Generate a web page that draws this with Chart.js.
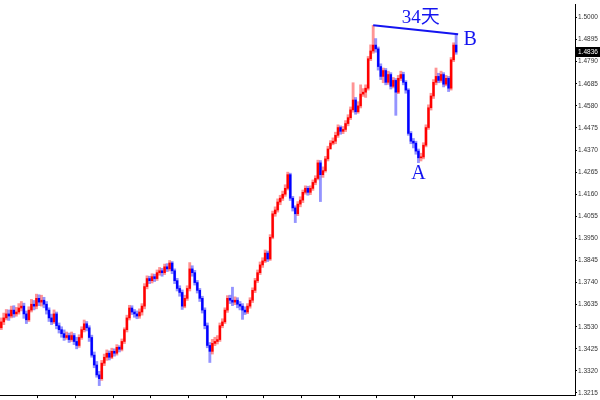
<!DOCTYPE html>
<html>
<head>
<meta charset="utf-8">
<script src="https://cdn.jsdelivr.net/npm/chart.js@4.4.0/dist/chart.umd.min.js"></script>
<style>
  html, body { margin: 0; padding: 0; background: #fff; }
  #wrap { width: 600px; height: 400px; position: relative; }
</style>
</head>
<body>
<div id="wrap"><canvas id="chart"></canvas></div>
<script>
// ===== DATA (daily bars) =====
const opens = [
  1.3525,1.3553,1.3572,1.3591,1.3581,1.3609,1.3591,1.3600,1.3619,1.3628,
  1.3591,1.3563,1.3609,1.3637,1.3628,1.3665,1.3647,1.3656,1.3637,1.3609,
  1.3572,1.3553,1.3591,1.3535,1.3516,1.3497,1.3479,1.3488,1.3469,1.3488,
  1.3460,1.3441,1.3479,1.3516,1.3544,1.3525,1.3479,1.3395,1.3348,1.3301,
  1.3283,1.3357,1.3385,1.3404,1.3385,1.3413,1.3404,1.3432,1.3423,1.3460,
  1.3516,1.3572,1.3619,1.3600,1.3591,1.3581,1.3600,1.3628,1.3721,1.3759,
  1.3749,1.3768,1.3759,1.3787,1.3796,1.3787,1.3815,1.3805,1.3833,1.3796,
  1.3749,1.3712,1.3693,1.3628,1.3665,1.3712,1.3805,1.3787,1.3740,1.3703,
  1.3665,1.3609,1.3535,1.3441,1.3413,1.3451,1.3460,1.3469,1.3535,1.3553,
  1.3609,1.3665,1.3656,1.3647,1.3656,1.3637,1.3628,1.3609,1.3600,1.3628,
  1.3656,1.3703,1.3749,1.3787,1.3824,1.3843,1.3880,1.3852,1.3955,1.4067,
  1.4085,1.4123,1.4141,1.4160,1.4188,1.4253,1.4141,1.4095,1.4067,1.4113,
  1.4132,1.4169,1.4188,1.4169,1.4188,1.4216,1.4235,1.4309,1.4253,1.4272,
  1.4328,1.4375,1.4403,1.4412,1.4440,1.4477,1.4459,1.4468,1.4496,1.4524,
  1.4561,1.4608,1.4552,1.4580,1.4636,1.4645,1.4664,1.4804,1.4841,1.4869,
  1.4851,1.4767,1.4720,1.4748,1.4692,1.4729,1.4673,1.4701,1.4645,1.4711,
  1.4729,1.4692,1.4655,1.4449,1.4412,1.4403,1.4365,1.4333,1.4337,1.4393,
  1.4477,1.4571,1.4627,1.4692,1.4720,1.4701,1.4729,1.4683,1.4711,1.4664,
  1.4799,1.4869
];
const highs = [
  1.3572,1.3595,1.3612,1.3610,1.3628,1.3630,1.3622,1.3640,1.3650,1.3642,
  1.3605,1.3625,1.3660,1.3655,1.3685,1.3682,1.3680,1.3670,1.3650,1.3620,
  1.3590,1.3610,1.3600,1.3548,1.3530,1.3515,1.3505,1.3500,1.3505,1.3498,
  1.3480,1.3492,1.3530,1.3562,1.3555,1.3535,1.3490,1.3410,1.3365,1.3318,
  1.3370,1.3400,1.3420,1.3415,1.3428,1.3425,1.3445,1.3440,1.3472,1.3525,
  1.3585,1.3632,1.3630,1.3612,1.3605,1.3615,1.3640,1.3735,1.3772,1.3770,
  1.3782,1.3780,1.3800,1.3812,1.3808,1.3828,1.3830,1.3845,1.3840,1.3805,
  1.3760,1.3725,1.3705,1.3680,1.3725,1.3835,1.3820,1.3798,1.3750,1.3712,
  1.3675,1.3620,1.3548,1.3455,1.3470,1.3480,1.3488,1.3548,1.3568,1.3620,
  1.3678,1.3680,1.3718,1.3672,1.3668,1.3650,1.3640,1.3625,1.3640,1.3668,
  1.3715,1.3760,1.3800,1.3838,1.3858,1.3895,1.3890,1.3968,1.4080,1.4100,
  1.4138,1.4155,1.4175,1.4205,1.4265,1.4260,1.4150,1.4105,1.4125,1.4148,
  1.4180,1.4200,1.4198,1.4200,1.4228,1.4248,1.4322,1.4320,1.4290,1.4340,
  1.4388,1.4415,1.4428,1.4455,1.4490,1.4485,1.4482,1.4510,1.4538,1.4575,
  1.4690,1.4620,1.4600,1.4680,1.4662,1.4680,1.4815,1.4870,1.4963,1.4900,
  1.4860,1.4780,1.4760,1.4758,1.4745,1.4738,1.4715,1.4710,1.4725,1.4745,
  1.4740,1.4700,1.4662,1.4458,1.4425,1.4412,1.4375,1.4355,1.4405,1.4490,
  1.4585,1.4640,1.4705,1.4760,1.4735,1.4745,1.4738,1.4725,1.4720,1.4810,
  1.4880,1.4921
];
const lows = [
  1.3516,1.3540,1.3562,1.3560,1.3572,1.3575,1.3580,1.3590,1.3605,1.3570,
  1.3545,1.3555,1.3600,1.3610,1.3615,1.3630,1.3628,1.3620,1.3590,1.3555,
  1.3540,1.3545,1.3520,1.3500,1.3480,1.3465,1.3470,1.3455,1.3460,1.3445,
  1.3425,1.3432,1.3470,1.3505,1.3510,1.3460,1.3385,1.3335,1.3290,1.3250,
  1.3275,1.3345,1.3370,1.3372,1.3378,1.3390,1.3395,1.3410,1.3415,1.3450,
  1.3505,1.3562,1.3588,1.3575,1.3568,1.3570,1.3585,1.3615,1.3710,1.3735,
  1.3738,1.3745,1.3750,1.3775,1.3770,1.3778,1.3792,1.3795,1.3782,1.3735,
  1.3700,1.3675,1.3612,1.3620,1.3655,1.3700,1.3770,1.3728,1.3690,1.3650,
  1.3595,1.3520,1.3430,1.3360,1.3400,1.3440,1.3448,1.3460,1.3525,1.3545,
  1.3598,1.3640,1.3630,1.3635,1.3620,1.3610,1.3565,1.3588,1.3592,1.3618,
  1.3645,1.3692,1.3740,1.3778,1.3812,1.3835,1.3840,1.3845,1.3948,1.4055,
  1.4075,1.4110,1.4130,1.4150,1.4180,1.4130,1.4080,1.4025,1.4058,1.4100,
  1.4120,1.4160,1.4155,1.4158,1.4178,1.4205,1.4228,1.4125,1.4240,1.4265,
  1.4318,1.4390,1.4395,1.4400,1.4430,1.4445,1.4448,1.4458,1.4485,1.4515,
  1.4550,1.4540,1.4545,1.4570,1.4625,1.4620,1.4655,1.4795,1.4830,1.4835,
  1.4750,1.4705,1.4690,1.4680,1.4682,1.4660,1.4665,1.4535,1.4638,1.4700,
  1.4680,1.4640,1.4440,1.4400,1.4380,1.4350,1.4310,1.4318,1.4328,1.4385,
  1.4468,1.4560,1.4615,1.4680,1.4690,1.4692,1.4670,1.4675,1.4648,1.4655,
  1.4790,1.4825
];
const closes = [
  1.3553,1.3572,1.3591,1.3581,1.3609,1.3591,1.3600,1.3619,1.3628,1.3591,
  1.3563,1.3609,1.3637,1.3628,1.3665,1.3647,1.3656,1.3637,1.3609,1.3572,
  1.3553,1.3591,1.3535,1.3516,1.3497,1.3479,1.3488,1.3469,1.3488,1.3460,
  1.3441,1.3479,1.3516,1.3544,1.3525,1.3479,1.3395,1.3348,1.3301,1.3283,
  1.3357,1.3385,1.3404,1.3385,1.3413,1.3404,1.3432,1.3423,1.3460,1.3516,
  1.3572,1.3619,1.3600,1.3591,1.3581,1.3600,1.3628,1.3721,1.3759,1.3749,
  1.3768,1.3759,1.3787,1.3796,1.3787,1.3815,1.3805,1.3833,1.3796,1.3749,
  1.3712,1.3693,1.3628,1.3665,1.3712,1.3805,1.3787,1.3740,1.3703,1.3665,
  1.3609,1.3535,1.3441,1.3413,1.3451,1.3460,1.3469,1.3535,1.3553,1.3609,
  1.3665,1.3656,1.3647,1.3656,1.3637,1.3628,1.3609,1.3600,1.3628,1.3656,
  1.3703,1.3749,1.3787,1.3824,1.3843,1.3880,1.3852,1.3955,1.4067,1.4085,
  1.4123,1.4141,1.4160,1.4188,1.4253,1.4141,1.4095,1.4067,1.4113,1.4132,
  1.4169,1.4188,1.4169,1.4188,1.4216,1.4235,1.4309,1.4253,1.4272,1.4328,
  1.4375,1.4403,1.4412,1.4440,1.4477,1.4459,1.4468,1.4496,1.4524,1.4561,
  1.4608,1.4552,1.4580,1.4636,1.4645,1.4664,1.4804,1.4841,1.4869,1.4851,
  1.4767,1.4720,1.4748,1.4692,1.4729,1.4673,1.4701,1.4645,1.4711,1.4729,
  1.4692,1.4655,1.4449,1.4412,1.4403,1.4365,1.4333,1.4337,1.4393,1.4477,
  1.4571,1.4627,1.4692,1.4720,1.4701,1.4729,1.4683,1.4711,1.4664,1.4799,
  1.4869,1.4836
];

// price axis labels on the right
const yTicks = [1.3215, 1.3320, 1.3425, 1.3530, 1.3635, 1.3740, 1.3845, 1.3950,
  1.4055, 1.4160, 1.4265, 1.4370, 1.4475, 1.4580, 1.4685, 1.4790, 1.4895, 1.5000];
// time axis tick marks (bar boundaries, no labels)
const xTickBars = [15, 30, 45, 60, 75, 90, 105, 120, 135, 150, 165, 180];

// marked bars for the A/B pattern
const peakBar = 148;
const aBar = 166;
const bBar = 181;
const spanLabel = '34天';

// ===== BUILD DATASETS =====
const UP = '#ff0000', DOWN = '#0000ff';
const UP_WICK = 'rgba(255,0,0,0.42)', DOWN_WICK = 'rgba(0,0,255,0.42)';

const wickData = highs.map((h, i) => ({ x: i, y: [lows[i], h] }));
const bodyData = opens.map((o, i) => ({ x: i, y: [o, closes[i]] }));
const isUp = closes.map((c, i) => c >= opens[i]);

// ===== ANNOTATIONS (trend line, labels, last price box) =====
const annotPlugin = {
  id: 'annot',
  afterDatasetsDraw(chart) {
    const { ctx, scales: { x, y } } = chart;
    const x1 = x.getPixelForValue(peakBar);
    const y1 = y.getPixelForValue(highs[peakBar]);
    const x2 = x.getPixelForValue(bBar) + 2;
    const y2 = y.getPixelForValue(highs[bBar]);

    ctx.save();
    ctx.strokeStyle = '#1414f0';
    ctx.lineWidth = 2;
    ctx.beginPath();
    ctx.moveTo(x1, y1);
    ctx.lineTo(x2, y2);
    ctx.stroke();

    ctx.fillStyle = '#1414f0';
    ctx.textAlign = 'center';
    ctx.textBaseline = 'alphabetic';
    ctx.font = '19px "Liberation Serif", "Noto Sans CJK SC", serif';
    ctx.fillText(spanLabel, (x1 + x2) / 2 + 5, Math.min(y1, y2) - 2);

    ctx.font = '20px "Liberation Serif", serif';
    ctx.textBaseline = 'middle';
    ctx.fillText('B', x2 + 12, y2 + 6);
    ctx.fillText('A', x.getPixelForValue(aBar), y.getPixelForValue(lows[aBar]) + 11);
    ctx.restore();
  },
  afterDraw(chart) {
    const { ctx, scales: { y }, chartArea } = chart;
    const last = closes[closes.length - 1];
    const py = Math.round(y.getPixelForValue(last));
    ctx.save();
    ctx.fillStyle = '#000';
    ctx.fillRect(chartArea.right + 1, py - 5, 600 - chartArea.right - 1, 10);
    ctx.fillStyle = '#fff';
    ctx.font = '6.5px "Liberation Sans", Arial, sans-serif';
    ctx.textAlign = 'left';
    ctx.textBaseline = 'middle';
    ctx.fillText(last.toFixed(4), chartArea.right + 3, py + 0.5);
    ctx.restore();
  }
};

// ===== CHART =====
new Chart(document.getElementById('chart'), {
  type: 'bar',
  data: {
    datasets: [
      {
        data: wickData,
        backgroundColor: isUp.map(u => u ? UP_WICK : DOWN_WICK),
        barThickness: 2.2,
        grouped: false,
        order: 2
      },
      {
        data: bodyData,
        backgroundColor: isUp.map(u => u ? UP : DOWN),
        barThickness: 1.7,
        minBarLength: 1,
        grouped: false,
        order: 1
      }
    ]
  },
  options: {
    responsive: true,
    maintainAspectRatio: false,
    animation: false,
    layout: { padding: 0 },
    plugins: {
      legend: { display: false },
      tooltip: { enabled: false }
    },
    scales: {
      x: {
        type: 'linear',
        min: -0.5,
        max: 228.3,
        offset: false,
        grid: { offset: false, drawOnChartArea: false, drawTicks: true, tickLength: 3, color: '#000' },
        border: { display: true, color: '#000' },
        ticks: { callback: () => '', autoSkip: false, maxRotation: 0 },
        afterBuildTicks: s => { s.ticks = xTickBars.map(v => ({ value: v - 0.5 })); },
        afterFit: s => { s.height = 3; }
      },
      y: {
        position: 'right',
        min: 1.3205,
        max: 1.5060,
        grid: { drawOnChartArea: false, drawTicks: true, tickLength: 2, color: '#000' },
        border: { display: true, color: '#000' },
        ticks: {
          autoSkip: false,
          padding: 1,
          color: '#333',
          font: { family: '"Liberation Sans", Arial, sans-serif', size: 6.5 },
          callback: v => Number(v).toFixed(4)
        },
        afterBuildTicks: s => { s.ticks = yTicks.map(v => ({ value: v })); },
        afterFit: s => { s.width = 25; }
      }
    }
  },
  plugins: [annotPlugin]
});
</script>
</body>
</html>
